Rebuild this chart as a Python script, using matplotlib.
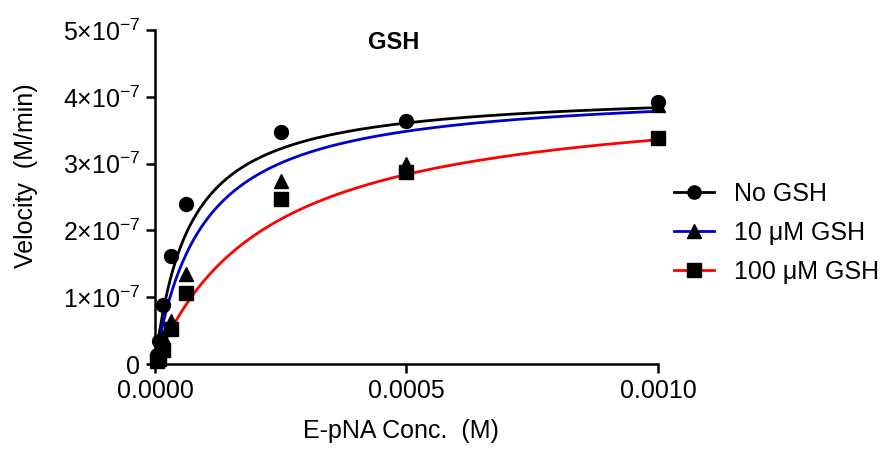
import numpy as np
import matplotlib
matplotlib.use("Agg")
import matplotlib.pyplot as plt
from matplotlib.ticker import FixedLocator, FuncFormatter

plt.rcParams['font.family'] = ['Liberation Sans', 'DejaVu Sans']
plt.rcParams['mathtext.default'] = 'regular'

# Substrate concentrations (M)
conc = [3.90625e-6, 7.8125e-6, 1.5625e-5, 3.125e-5, 6.25e-5, 2.5e-4, 5e-4, 1e-3]

# Initial velocities (M/min)
v_no_gsh = [0.14e-7, 0.34e-7, 0.88e-7, 1.61e-7, 2.40e-7, 3.47e-7, 3.64e-7, 3.93e-7]
v_10_gsh = [0.06e-7, 0.14e-7, 0.40e-7, 0.65e-7, 1.35e-7, 2.74e-7, 3.00e-7, 3.88e-7]
v_100_gsh = [0.04e-7, 0.08e-7, 0.21e-7, 0.53e-7, 1.06e-7, 2.47e-7, 2.87e-7, 3.38e-7]

# Michaelis-Menten fit parameters (Vmax in M/min, Km in M)
vmax = [4.10e-7, 4.14e-7, 4.11e-7]
km = [6.8e-5, 9.4e-5, 2.24e-4]

labels = ["No GSH", "10 \u03bcM GSH", "100 \u03bcM GSH"]
line_colors = ["black", "#0000cc", "#ff0000"]
markers = ["o", "^", "s"]

x_ticks = [0.0, 0.0005, 0.0010]
y_ticks = [0, 1e-7, 2e-7, 3e-7, 4e-7, 5e-7]

FS = 18

fig = plt.figure(figsize=(8.88, 4.70), dpi=100)
ax = fig.add_axes([0.1745, 0.2255, 0.5665, 0.7105])

xs = np.linspace(0, 0.001, 400)
series = [v_no_gsh, v_10_gsh, v_100_gsh]
handles = []
for vals, vm, k, col in zip(series, vmax, km, line_colors):
    ax.plot(xs, vm * xs / (k + xs), color=col, lw=2.0, zorder=2)
for vals, col, mk, lab in zip(series, line_colors, markers, labels):
    ax.plot(conc, vals, linestyle="none", marker=mk, color="black",
            markersize=10 if mk != "^" else 10.5, zorder=3, clip_on=False)
    h, = ax.plot([], [], color=col, lw=2.0, marker=mk, markerfacecolor="black",
                 markeredgecolor="black", markersize=9.5, label=lab)
    handles.append(h)

ax.set_xlim(0, 0.001)
ax.set_ylim(0, 5e-7)
for s in ["top", "right"]:
    ax.spines[s].set_visible(False)
for s in ["left", "bottom"]:
    ax.spines[s].set_linewidth(1.8)

ax.xaxis.set_major_locator(FixedLocator(x_ticks))
ax.yaxis.set_major_locator(FixedLocator(y_ticks))
ax.xaxis.set_major_formatter(FuncFormatter(lambda v, p: f"{v:.4f}"))


def yfmt(v, p):
    n = int(round(v / 1e-7))
    if n == 0:
        return "0"
    return f"{n}\u00d710$^{{-7}}$"


ax.yaxis.set_major_formatter(FuncFormatter(yfmt))
ax.tick_params(axis="both", direction="out", length=6.5, width=1.8,
               labelsize=FS, pad=4)

ax.text(0.475, 0.964, "GSH", transform=ax.transAxes, ha="center", va="center",
        fontsize=17, fontweight="bold")
ax.set_xlabel("E-pNA Conc.  (M)", fontsize=FS)
ax.xaxis.set_label_coords(0.489, -0.165)
ax.xaxis.label.set_va("top")
ax.set_ylabel("Velocity  (M/min)", fontsize=FS)
ax.yaxis.set_label_coords(-0.233, 0.563)

fig.legend(handles=handles, loc="center left", bbox_to_anchor=(0.748, 0.505),
           frameon=False, fontsize=FS, handlelength=1.6, handletextpad=0.8,
           labelspacing=0.6, borderaxespad=0)

fig.savefig("out.png", dpi=100)
